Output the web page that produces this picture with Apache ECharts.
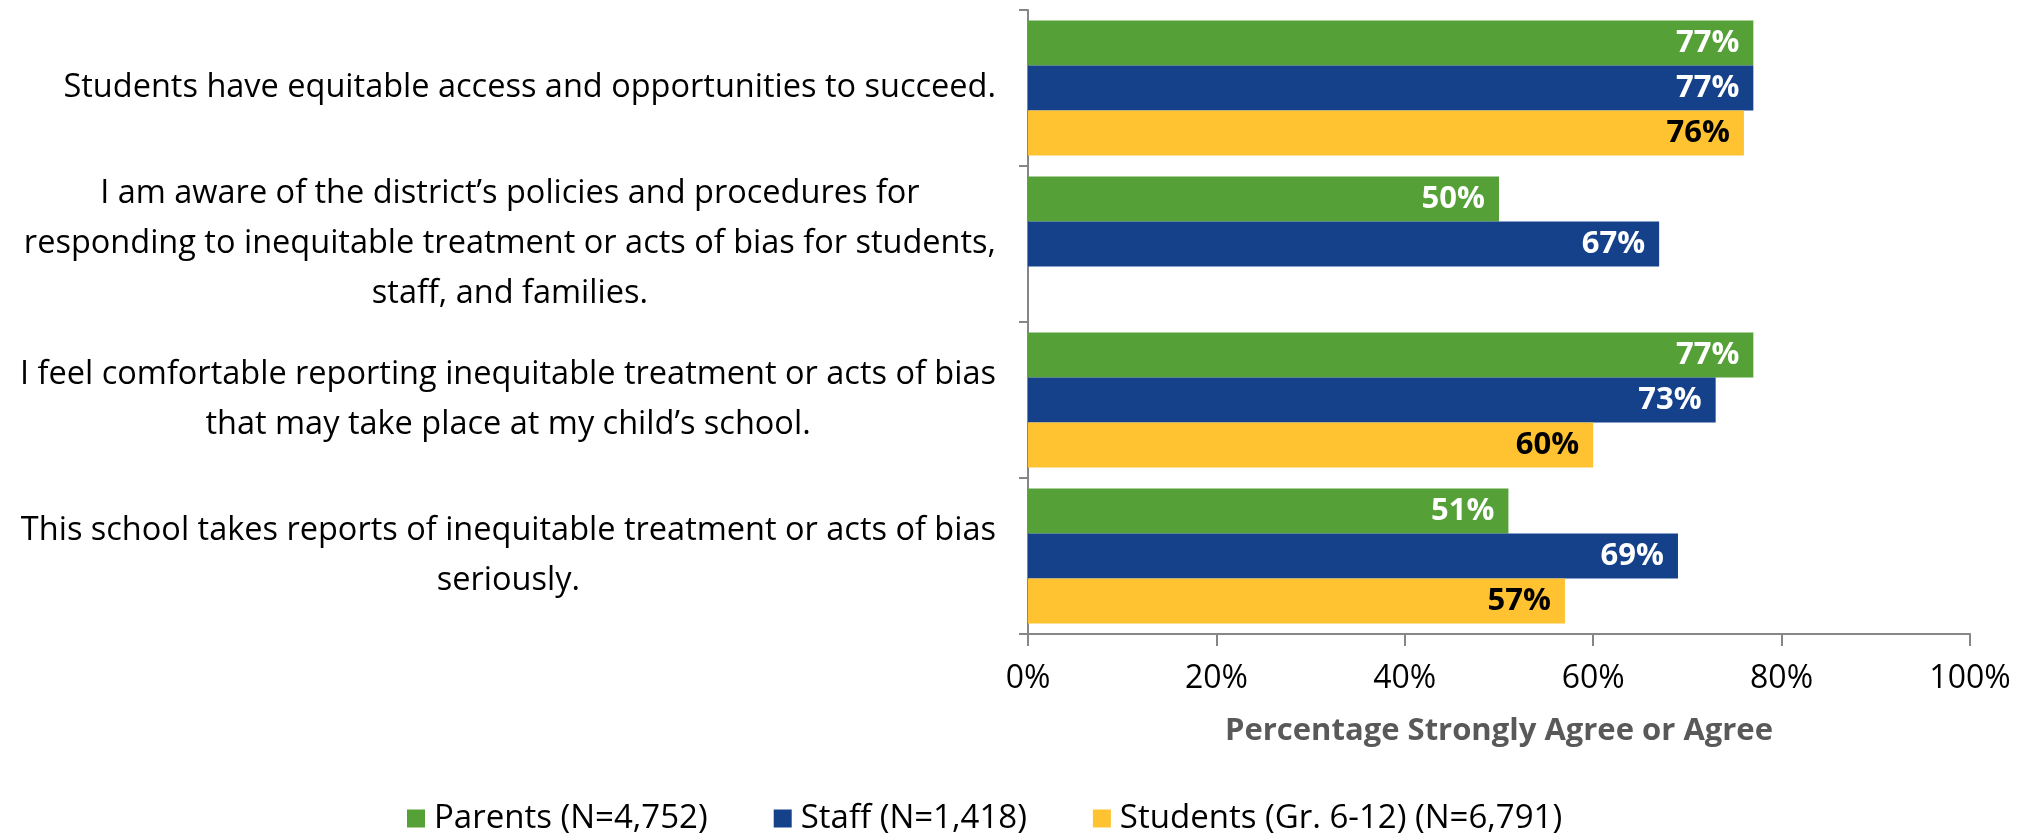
<!DOCTYPE html>
<html>
<head>
<meta charset="utf-8">
<script src="https://cdn.jsdelivr.net/npm/echarts@6/dist/echarts.min.js"></script>
<style>
  html, body { margin: 0; padding: 0; background: #fff; }
  #chart { width: 2028px; height: 839px; }
</style>
</head>
<body>
<div id="chart"></div>
<script>
// Survey statements (line breaks as they wrap on the axis)
const categories = [
  'Students have equitable access and opportunities to succeed.',
  'I am aware of the district\u2019s policies and procedures for\nresponding to inequitable treatment or acts of bias for students,\nstaff, and families.',
  'I feel comfortable reporting inequitable treatment or acts of bias\nthat may take place at my child\u2019s school.',
  'This school takes reports of inequitable treatment or acts of bias\nseriously.'
];

const seriesNames = ['Parents (N=4,752)', 'Staff (N=1,418)', 'Students (Gr. 6-12) (N=6,791)'];

// Percentage strongly agree or agree
const parents = [77, 50, 77, 51];
const staff = [77, 67, 73, 69];
const students = [76, null, 60, 57];

const xTicks = [0, 20, 40, 60, 80, 100];

const FONT = 'Open Sans';
const colors = ['#55A137', '#14418A', '#FFC230'];
const labelColors = ['#FFFFFF', '#FFFFFF', '#000000'];

const chart = echarts.init(document.getElementById('chart'), null, { renderer: 'canvas' });

function barSeries(name, data, idx) {
  return {
    name: name,
    type: 'bar',
    data: data,
    barGap: '0%',
    barCategoryGap: '13.5%',
    itemStyle: { color: colors[idx] },
    label: {
      show: true,
      position: 'insideRight',
      distance: 14,
      formatter: p => p.value == null ? '' : p.value + '%',
      color: labelColors[idx],
      fontFamily: FONT,
      fontWeight: 'bold',
      fontSize: 31
    },
    emphasis: { disabled: true }
  };
}

chart.setOption({
  animation: false,
  textStyle: { fontFamily: FONT },
  grid: { left: 1028, right: 58, top: 10, bottom: 205, containLabel: false },
  legend: {
    data: seriesNames,
    left: 407,
    top: 802,
    padding: 0,
    itemWidth: 18,
    itemHeight: 18,
    itemGap: 66,
    icon: 'rect',
    textStyle: { fontFamily: FONT, fontSize: 33, color: '#000', padding: [0, 0, 0, 4] }
  },
  xAxis: {
    type: 'value',
    min: xTicks[0],
    max: xTicks[xTicks.length - 1],
    interval: xTicks[1] - xTicks[0],
    name: 'Percentage Strongly Agree or Agree',
    nameLocation: 'middle',
    nameGap: 82,
    nameTextStyle: { fontFamily: FONT, fontSize: 31, fontWeight: 'bold', color: '#595959' },
    axisLine: { show: true, lineStyle: { color: '#868686', width: 2 } },
    axisTick: { show: true, length: 12, lineStyle: { color: '#868686', width: 2 } },
    splitLine: { show: false },
    axisLabel: {
      formatter: '{value}%',
      margin: 29,
      fontFamily: FONT,
      fontSize: 32,
      color: '#000'
    }
  },
  yAxis: {
    type: 'category',
    data: categories,
    inverse: true,
    axisLine: { show: true, lineStyle: { color: '#868686', width: 2 } },
    axisTick: { show: true, length: 9, lineStyle: { color: '#868686', width: 2 } },
    axisLabel: {
      margin: 32,
      align: 'right',
      formatter: v => v.split('\n').map(line => '{c|' + line + '}').join('\n'),
      rich: {
        c: { align: 'center', fontFamily: FONT, fontSize: 32.5, lineHeight: 50, color: '#000' }
      }
    }
  },
  series: [
    barSeries(seriesNames[0], parents, 0),
    barSeries(seriesNames[1], staff, 1),
    barSeries(seriesNames[2], students, 2)
  ]
});
</script>
</body>
</html>
